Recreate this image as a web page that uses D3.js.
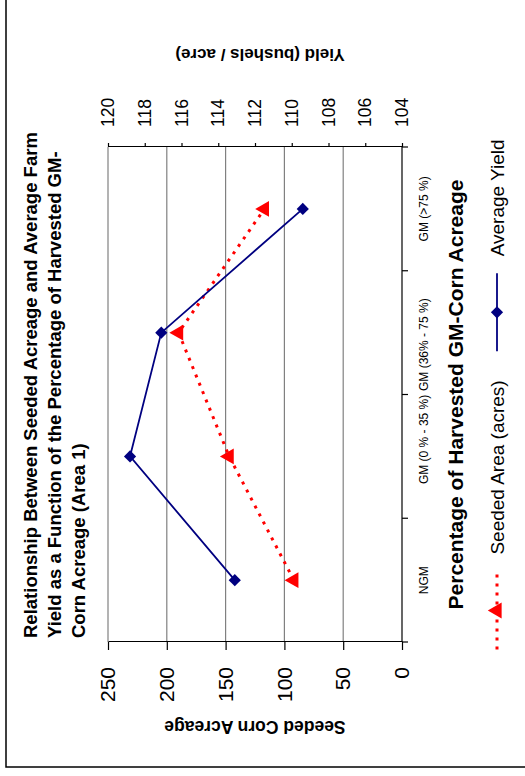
<!DOCTYPE html>
<html>
<head>
<meta charset="utf-8">
<script src="https://cdn.jsdelivr.net/npm/d3@7"></script>
<style>
  body { margin: 0; background: #fff; }
  svg { display: block; font-family: "Liberation Sans", Arial, sans-serif; }
</style>
</head>
<body>
<div id="chart"></div>
<script>
var categories = ["NGM", "GM (0 % - 35 %)", "GM (36% - 75 %)", "GM (>75 %)"];
var seededArea = [92, 147, 190, 117];
var avgYield = [113.1, 118.8, 117.1, 109.4];
var acreTicks = [0, 50, 100, 150, 200, 250];
var yieldTicks = [104, 106, 108, 110, 112, 114, 116, 118, 120];
var titleLines = [
    "Relationship Between Seeded Acreage and Average Farm",
    "Yield as a Function of the Percentage of Harvested GM-",
    "Corn Acreage (Area 1)"
];
var seriesNames = ["Seeded Area (acres)", "Average Yield"];

// the chart is laid out landscape (776 x 525) and then turned a quarter left
var svg = d3.select("#chart")
    .append("svg")
    .attr("width", 525)
    .attr("height", 776);

svg.append("rect").attr("width", 525).attr("height", 776).attr("fill", "#fff");

var g = svg.append("g")
    .attr("transform", "translate(0,776) rotate(-90)");

var plot = { left: 134, right: 629, top: 108, bottom: 402 };

// outer frame
g.append("rect")
    .attr("x", 9).attr("y", 6)
    .attr("width", 900).attr("height", 700)
    .attr("fill", "none")
    .attr("stroke", "#000")
    .attr("stroke-width", 1.5);

var x = d3.scaleBand()
    .domain(categories)
    .range([plot.left, plot.right]);

var yL = d3.scaleLinear().domain([0, 250]).range([plot.bottom, plot.top]);
var yR = d3.scaleLinear().domain([104, 120]).range([plot.bottom, plot.top]);

// gridlines
g.selectAll("line.grid")
    .data(acreTicks.filter(function (d) { return d > 0; }))
    .enter()
    .append("line")
    .attr("class", "grid")
    .attr("x1", plot.left).attr("x2", plot.right)
    .attr("y1", function (d) { return yL(d); })
    .attr("y2", function (d) { return yL(d); })
    .attr("stroke", "#808080")
    .attr("stroke-width", 1.2);

// left axis
var leftAxis = g.append("g")
    .attr("transform", "translate(" + plot.left + ",0)")
    .call(d3.axisLeft(yL).tickValues(acreTicks).tickSize(8).tickSizeOuter(0).tickPadding(17));
leftAxis.selectAll("text").attr("font-size", "21px").attr("fill", "#000");

// right axis
var rightAxis = g.append("g")
    .attr("transform", "translate(" + plot.right + ",0)")
    .call(d3.axisRight(yR).tickValues(yieldTicks).tickSize(4).tickSizeOuter(0).tickPadding(16));
rightAxis.selectAll("text").attr("font-size", "17.5px").attr("fill", "#000");

g.selectAll(".domain, .tick line").attr("stroke", "#000").attr("stroke-width", 1.2);
g.selectAll(".tick text").attr("font-family", "Liberation Sans, Arial, sans-serif");

// category axis
g.append("line")
    .attr("x1", plot.left).attr("x2", plot.right)
    .attr("y1", plot.bottom).attr("y2", plot.bottom)
    .attr("stroke", "#000").attr("stroke-width", 1.2);

var bounds = categories.map(function (c) { return x(c); }).concat([plot.right]);
g.selectAll("line.ctick")
    .data(bounds)
    .enter()
    .append("line")
    .attr("x1", function (d) { return d; })
    .attr("x2", function (d) { return d; })
    .attr("y1", plot.bottom).attr("y2", plot.bottom + 6)
    .attr("stroke", "#000").attr("stroke-width", 1.2);

var labelNudge = [0, 17, -12, 0];   // excel shoved the two middle labels apart
g.selectAll("text.clabel")
    .data(categories)
    .enter()
    .append("text")
    .attr("x", function (d, i) { return x(d) + x.bandwidth() / 2 + labelNudge[i]; })
    .attr("y", plot.bottom + 26)
    .attr("text-anchor", "middle")
    .attr("font-size", "12px")
    .text(function (d) { return d; });

// seeded area series
var cx = function (d, i) { return x(categories[i]) + x.bandwidth() / 2; };

g.append("path")
    .datum(seededArea)
    .attr("d", d3.line().x(cx).y(function (d) { return yL(d); }))
    .attr("fill", "none")
    .attr("stroke", "#ff0000")
    .attr("stroke-width", 3)
    .attr("stroke-dasharray", "3,6");

g.append("path")
    .datum(avgYield)
    .attr("d", d3.line().x(cx).y(function (d) { return yR(d); }))
    .attr("fill", "none")
    .attr("stroke", "#000080")
    .attr("stroke-width", 1.8);

g.selectAll("path.tri")
    .data(seededArea)
    .enter()
    .append("path")
    .attr("class", "tri")
    .attr("d", d3.symbol().type(d3.symbolTriangle).size(110))
    .attr("transform", function (d, i) { return "translate(" + cx(d, i) + "," + yL(d) + ")"; })
    .attr("fill", "#ff0000");

g.selectAll("path.dia")
    .data(avgYield)
    .enter()
    .append("path")
    .attr("class", "dia")
    .attr("d", d3.symbol().type(d3.symbolDiamond2).size(95))
    .attr("transform", function (d, i) { return "translate(" + cx(d, i) + "," + yR(d) + ")"; })
    .attr("fill", "#000080");

// titles
var title = g.append("text")
    .attr("font-size", "18.5px")
    .attr("font-weight", "bold");
title.selectAll("tspan")
    .data(titleLines)
    .enter()
    .append("tspan")
    .attr("x", 138)
    .attr("y", function (d, i) { return 37 + i * 24; })
    .text(function (d) { return d; });

g.append("text")
    .attr("x", (plot.left + plot.right) / 2)
    .attr("y", 463)
    .attr("text-anchor", "middle")
    .attr("font-size", "21px")
    .attr("font-weight", "bold")
    .text("Percentage of Harvested GM-Corn Acreage");

g.append("text")
    .attr("transform", "translate(49," + (plot.top + plot.bottom) / 2 + ") rotate(-90)")
    .attr("text-anchor", "middle")
    .attr("dy", "0.35em")
    .attr("font-size", "17.5px")
    .attr("font-weight", "bold")
    .text("Seeded Corn Acreage");

g.append("text")
    .attr("transform", "translate(721," + ((plot.top + plot.bottom) / 2 + 5) + ") rotate(-90)")
    .attr("text-anchor", "middle")
    .attr("dy", "0.35em")
    .attr("font-size", "17px")
    .attr("font-weight", "bold")
    .text("Yield (bushels / acre)");

// legend
var legend = g.append("g");
var symW = 78, gapText = 17, gapItem = 29, ly = 497;
var pos = 0;
var items = [];
seriesNames.forEach(function (name, i) {
    var item = legend.append("g").attr("transform", "translate(" + pos + ",0)");
    item.append("line")
        .attr("x1", 0).attr("x2", symW)
        .attr("y1", ly).attr("y2", ly)
        .attr("stroke", i === 0 ? "#ff0000" : "#000080")
        .attr("stroke-width", i === 0 ? 3 : 1.8)
        .attr("stroke-dasharray", i === 0 ? "3,6" : null);
    item.append("path")
        .attr("d", d3.symbol().type(i === 0 ? d3.symbolTriangle : d3.symbolDiamond2).size(i === 0 ? 110 : 95))
        .attr("transform", "translate(" + symW / 2 + "," + ly + ")")
        .attr("fill", i === 0 ? "#ff0000" : "#000080");
    var t = item.append("text")
        .attr("x", symW + gapText)
        .attr("y", ly)
        .attr("dy", "0.35em")
        .attr("font-size", "19px")
        .text(name);
    pos += symW + gapText + t.node().getComputedTextLength() + gapItem;
});
var legW = pos - gapItem;
legend.attr("transform", "translate(" + ((plot.left + plot.right) / 2 - legW / 2) + ",0)");
</script>
</body>
</html>
